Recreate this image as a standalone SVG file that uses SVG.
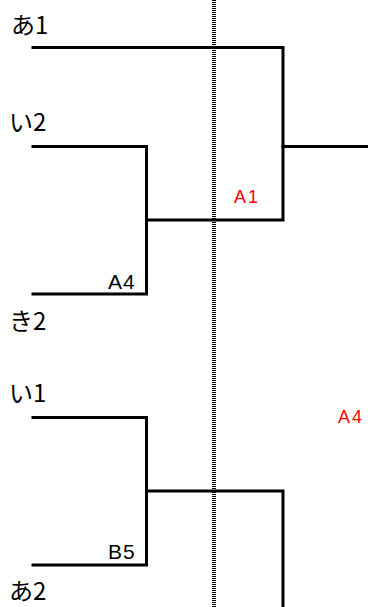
<svg xmlns="http://www.w3.org/2000/svg" width="368" height="607" viewBox="0 0 368 607">
<style>
.ln{fill:none;stroke:#000;stroke-width:3;stroke-linecap:square;stroke-linejoin:miter}
.dot{fill:none;stroke:#000;stroke-width:4;stroke-dasharray:1 1}
.name{font-family:"Noto Sans CJK JP","Noto Sans",sans-serif;font-size:24px;fill:#000}
.lab{font-family:"Liberation Sans",Arial,sans-serif;font-size:21px;fill:#000;letter-spacing:1px}
.red{font-family:"Liberation Sans",Arial,sans-serif;font-size:18px;fill:#ff0000;letter-spacing:2px}
</style>
<rect width="368" height="607" fill="#fff"/>
<g id="connectors">
<path class="ln" d="M33,47.5 H283 V220 H146.5"/>
<path class="ln" d="M33,146.5 H146.5 V294 H33"/>
<path class="ln" d="M283,146.5 H368"/>
<path class="ln" d="M33,417.5 H146.5 V565 H33"/>
<path class="ln" d="M146.5,491 H283 V610"/>
<line class="dot" x1="214" y1="0" x2="214" y2="607"/>
</g>
<g id="n-a1"><text class="name" x="11" y="34">あ1</text></g>
<g id="n-i2"><text class="name" x="9" y="131">い2</text></g>
<g id="n-ki2"><text class="name" x="9" y="330">き2</text></g>
<g id="n-i1"><text class="name" x="9" y="402">い1</text></g>
<g id="n-a2"><text class="name" x="9" y="600">あ2</text></g>
<g id="l-a4"><text class="lab" x="108" y="289">A4</text></g>
<g id="l-b5"><text class="lab" x="108" y="559">B5</text></g>
<g id="r-a1"><text class="red" x="234" y="203">A1</text></g>
<g id="r-a4"><text class="red" x="338" y="423">A4</text></g>
<g id="r-bottom"><text class="red" x="238" y="620">A3</text></g>
</svg>
